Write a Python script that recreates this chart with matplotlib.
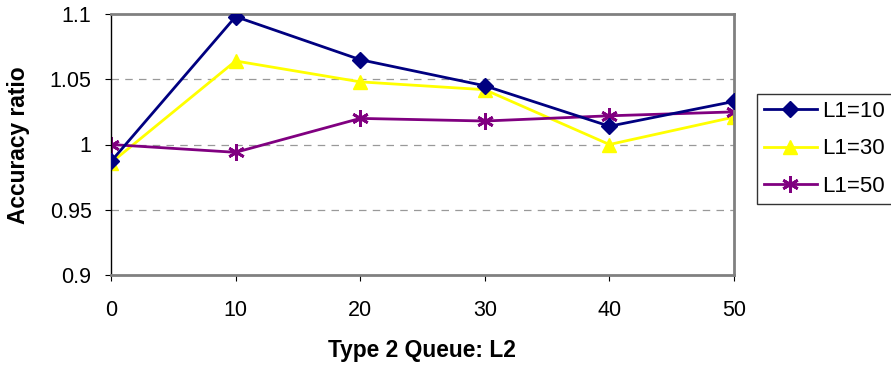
import matplotlib.pyplot as plt

plt.rcParams['font.family'] = ['Liberation Sans', 'DejaVu Sans']

# queue length L2 on the x axis
queue_l2 = [0, 10, 20, 30, 40, 50]
l1_10 = [0.987, 1.098, 1.065, 1.045, 1.014, 1.033]
l1_30 = [0.986, 1.064, 1.048, 1.042, 1.000, 1.021]
l1_50 = [1.000, 0.994, 1.020, 1.018, 1.022, 1.025]
y_ticks = [0.9, 0.95, 1.0, 1.05, 1.1]
y_tick_labels = ['0.9', '0.95', '1', '1.05', '1.1']

fig = plt.figure(figsize=(8.91, 3.65), dpi=100)
ax = fig.add_axes([111 / 891, 90 / 365, 623 / 891, 261 / 365])

ax.plot(queue_l2, l1_10, color='#000080', lw=2, marker='D', ms=8,
        label='L1=10', zorder=3)
ax.plot(queue_l2, l1_30, color='#FFFF00', lw=2, marker='^', ms=10,
        label='L1=30', zorder=2)
ax.plot(queue_l2, l1_50, color='#800080', lw=2, marker=(6, 2, 0), ms=12,
        mew=2, label='L1=50', zorder=2)

ax.set_xlim(0, 50)
ax.set_ylim(0.9, 1.1)
ax.set_xticks(queue_l2)
ax.set_yticks(y_ticks)
ax.set_yticklabels(y_tick_labels)
ax.tick_params(labelsize=15.5, direction='out', length=4, color='black')
ax.tick_params(axis='x', pad=14)
ax.tick_params(axis='y', pad=10)

for y in [0.95, 1.0, 1.05]:
    ax.axhline(y, color='#999999', lw=0.9, ls=(0, (6, 5)), zorder=1)

for side in ['top', 'right', 'bottom']:
    ax.spines[side].set_color('#808080')
    ax.spines[side].set_linewidth(2)
ax.spines['left'].set_color('black')
ax.spines['left'].set_linewidth(1)

fig.text(422 / 891, 1 - 350 / 365, 'Type 2 Queue: L2', fontsize=16.4,
         fontweight='bold', ha='center', va='center')
fig.text(19 / 891, 1 - 145 / 365, 'Accuracy ratio', fontsize=16.4,
         fontweight='bold', ha='center', va='center', rotation=90)

leg = fig.legend(loc='upper left', bbox_to_anchor=(757 / 891, 1 - 94 / 365),
                 fontsize=16, frameon=True, fancybox=False, edgecolor='black',
                 handlelength=2.4, borderpad=0.3, labelspacing=0.75,
                 handletextpad=0.25, borderaxespad=0)
leg.get_frame().set_linewidth(1)

fig.savefig('out.png', dpi=100)
